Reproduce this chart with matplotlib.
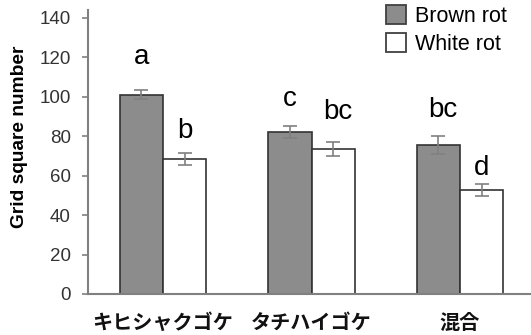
import numpy as np
import matplotlib
matplotlib.use('Agg')
import matplotlib.pyplot as plt

plt.rcParams['font.family'] = ['Liberation Sans', 'DejaVu Sans']

# data
groups = ['キヒシャクゴケ', 'タチハイゴケ', '混合']
brown = [101, 82.3, 75.4]
brown_err = [2.2, 3.0, 4.5]
white = [68.5, 73.6, 52.6]
white_err = [3.2, 3.5, 3.0]
brown_sig = ['a', 'c', 'bc']
white_sig = ['b', 'bc', 'd']
brown_sig_y = [116.7, 95.4, 89.8]
white_sig_y = [79.0, 88.8, 60.4]
yticks = [0, 20, 40, 60, 80, 100, 120, 140]

fig = plt.figure(figsize=(5.31, 3.35), dpi=100)
ax = fig.add_axes([88/531, 1-294/335, 1-88/531, (294-10)/335])

x = np.arange(len(groups))
w = 0.29
spine_col = '#808080'
ekw = dict(ecolor='#808080', elinewidth=1.2, capsize=4.8, capthick=1.2)

ax.bar(x - w/2, brown, w, yerr=brown_err, color='#8c8c8c', edgecolor='#333333',
       linewidth=1.2, error_kw=ekw, label='Brown rot', zorder=2)
ax.bar(x + w/2, white, w, yerr=white_err, color='white', edgecolor='#333333',
       linewidth=1.2, error_kw=ekw, label='White rot', zorder=2)

# significance letters above bars
for i in range(len(groups)):
    ax.text(x[i] - w/2 + (0.03 if len(brown_sig[i]) > 1 else 0), brown_sig_y[i], brown_sig[i],
            ha='center', va='baseline', fontsize=20)
    ax.text(x[i] + w/2 + (0.03 if len(white_sig[i]) > 1 else 0), white_sig_y[i], white_sig[i],
            ha='center', va='baseline', fontsize=20)

ax.set_xlim(-0.505, 2.478)
ax.set_ylim(0, 144)
ax.set_yticks(yticks)
ax.set_xticks(x)
ax.set_xticklabels(groups, family=['Noto Sans CJK JP', 'DejaVu Sans'], fontsize=14.5,
                   fontweight='bold', color='#111111')
ax.tick_params(axis='x', length=0, pad=13)
ax.tick_params(axis='y', length=4.3, width=1.2, color=spine_col, labelsize=13.5,
               labelcolor='#333333', pad=8)

for s in ['top', 'right']:
    ax.spines[s].set_visible(False)
for s in ['left', 'bottom']:
    ax.spines[s].set_color(spine_col)
    ax.spines[s].set_linewidth(1.5)

fig.text(20/531, 1-137/335, 'Grid square number', rotation=90, ha='center', va='center',
         fontsize=13.8, fontweight='bold')

leg = fig.legend(loc='upper left', bbox_to_anchor=(386/531, 1-5/335), frameon=False,
                 fontsize=15.5, handlelength=0.92, handleheight=0.97, handletextpad=0.45,
                 labelspacing=0.28, borderpad=0, borderaxespad=0)
for p in leg.get_patches():
    p.set_edgecolor('#404040')
    p.set_linewidth(1.3)

fig.savefig('out.png', dpi=100)
